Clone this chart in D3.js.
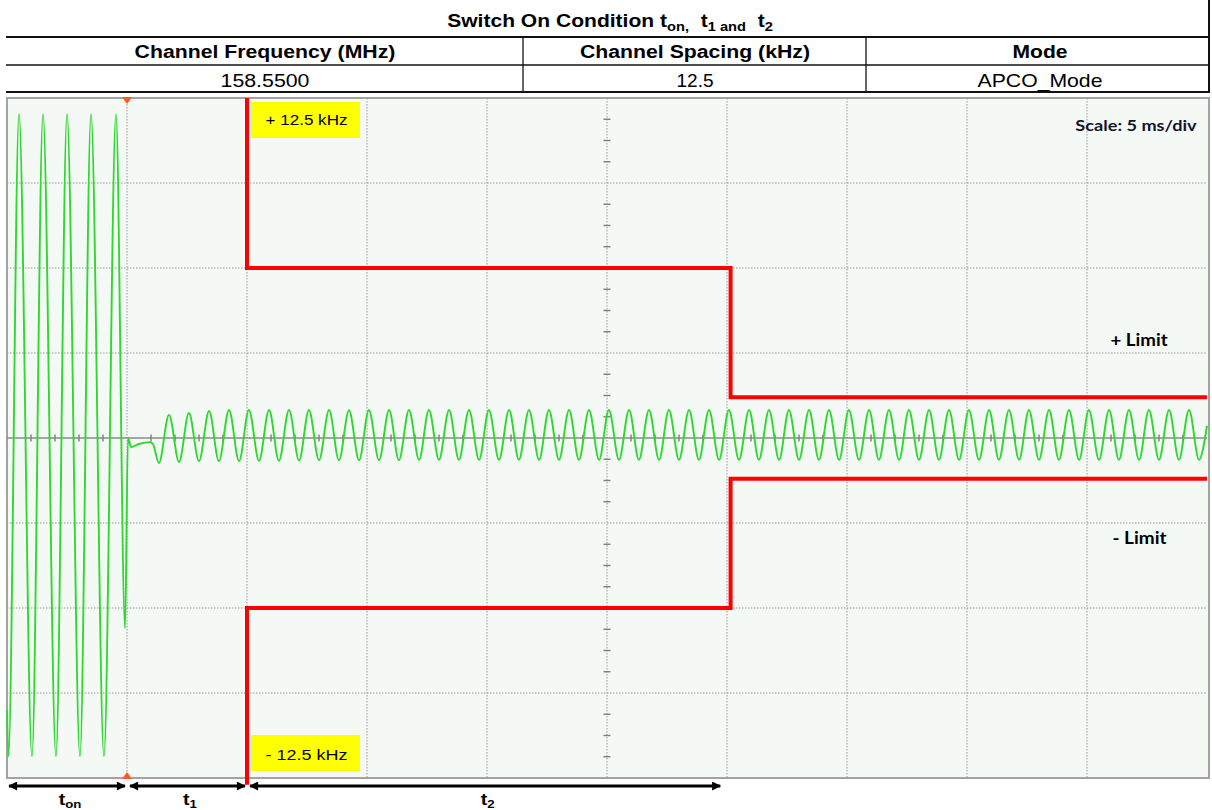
<!DOCTYPE html>
<html><head><meta charset="utf-8">
<script src="https://cdn.jsdelivr.net/npm/d3@7"></script>
<style>html,body{margin:0;padding:0;background:#fff;}svg{display:block;}</style>
</head><body>
<svg id="c" width="1212" height="810"></svg>
<script>
// ---------------- data ----------------
const titleMain = "Switch On Condition";
const headerColumns = ["Channel Frequency (MHz)", "Channel Spacing (kHz)", "Mode"];
const headerValues = ["158.5500", "12.5", "APCO_Mode"];
const timeGridMs = [0, 5, 10, 15, 20, 25, 30, 35, 40, 45, 50];
const freqGridKHz = [-12.5, -9.375, -6.25, -3.125, 0, 3.125, 6.25, 9.375, 12.5];
const limitTimesMs = [10, 10, 30.15, 30.15, 50];
const upperLimitKHz = [12.5, 6.25, 6.25, 1.5, 1.5];
const lowerLimitKHz = [-12.75, -6.25, -6.25, -1.5, -1.5];
const limitLabels = ["+ 12.5 kHz", "- 12.5 kHz"];
const sideLabels = ["+ Limit", "- Limit"];
const scaleLabel = "Scale: 5 ms/div";
// switch-on transient (big deviation then settling)
const startupTimesMs = [0, 0.06, 0.5, 1.04, 1.5, 2.04, 2.5, 3.04, 3.5, 4.04, 4.54, 4.92, 5.04, 5.17, 5.5, 5.96, 6.08];
const startupKHz = [-10.0, -11.7, 11.9, -11.7, 11.9, -11.7, 11.9, -11.7, 11.9, -11.7, 11.9, -7.0, 0.0, -0.33, -0.22, -0.15, -0.22];
// steady modulation extrema (trough, peak, trough, ...)
const steadyTimesMs = [6.33, 6.75, 7.17, 7.58, 8.00, 8.42, 8.83, 9.25, 9.67, 10.08, 10.50, 10.92, 11.33, 11.75, 12.17, 12.58,
  13.00, 13.42, 13.83, 14.25, 14.67, 15.08, 15.50, 15.92, 16.33, 16.75, 17.17, 17.58, 18.00, 18.42, 18.83, 19.25,
  19.67, 20.08, 20.50, 20.92, 21.33, 21.75, 22.17, 22.58, 23.00, 23.42, 23.83, 24.25, 24.67, 25.08, 25.50, 25.92,
  26.33, 26.75, 27.17, 27.58, 28.00, 28.42, 28.83, 29.25, 29.67, 30.08, 30.50, 30.92, 31.33, 31.75, 32.17, 32.58,
  33.00, 33.42, 33.83, 34.25, 34.67, 35.08, 35.50, 35.92, 36.33, 36.75, 37.17, 37.58, 38.00, 38.42, 38.83, 39.25,
  39.67, 40.08, 40.50, 40.92, 41.33, 41.75, 42.17, 42.58, 43.00, 43.42, 43.83, 44.25, 44.67, 45.08, 45.50, 45.92,
  46.33, 46.75, 47.17, 47.58, 48.00, 48.42, 48.83, 49.25, 49.67, 50.00];
const steadyKHz = [-0.92, 0.85, -0.88, 0.92, -0.85, 0.99, -0.85, 1.03, -0.85, 1.03, -0.84, 1.03, -0.84, 1.03, -0.83, 1.03,
  -0.82, 1.03, -0.82, 1.02, -0.82, 1.03, -0.82, 1.03, -0.82, 1.03, -0.80, 1.03, -0.80, 1.03, -0.80, 1.03,
  -0.80, 1.03, -0.80, 1.03, -0.80, 1.03, -0.80, 1.03, -0.80, 1.03, -0.80, 1.03, -0.80, 1.03, -0.80, 1.03,
  -0.80, 1.03, -0.80, 1.03, -0.80, 1.03, -0.80, 1.03, -0.80, 1.03, -0.80, 1.03, -0.80, 1.03, -0.80, 1.03,
  -0.80, 1.03, -0.80, 1.03, -0.80, 1.03, -0.80, 1.03, -0.80, 1.03, -0.80, 1.03, -0.80, 1.03, -0.80, 1.03,
  -0.80, 1.03, -0.80, 1.03, -0.80, 1.03, -0.80, 1.03, -0.80, 1.03, -0.80, 1.03, -0.80, 1.03, -0.80, 1.03,
  -0.80, 1.03, -0.80, 1.03, -0.80, 1.03, -0.80, 1.03, -0.80, 0.45];
const intervalNames = ["on", "1", "2"];
const intervalStartMs = [0, 5, 10];
const intervalEndMs = [5, 10, 29.8];
const triggerMs = 5;

// ---------------- drawing ----------------
const svg = d3.select("#c");
const x = d3.scaleLinear().domain([0, 50]).range([7, 1207]);
const y = d3.scaleLinear().domain([-12.5, 12.5]).range([778, 98]);
const SANS = "'Liberation Sans', Arial, sans-serif";
const CAL = "Lato, 'Open Sans', sans-serif";

function fitText(parent, txt, cx, by, target, opts) {
  const g = parent.append("g").attr("transform", `translate(${cx},${by})`);
  const t = g.append("text").attr("x", 0).attr("y", 0)
    .attr("text-anchor", opts.anchor || "middle")
    .attr("font-family", opts.family || SANS)
    .attr("font-size", opts.size || 16)
    .attr("font-weight", opts.weight || "normal")
    .attr("fill", opts.fill || "#000")
    .style("white-space", "pre");
  if (typeof txt === "function") txt(t); else t.text(txt);
  const w = t.node().getBBox().width;
  if (target && w > 0) g.attr("transform", `translate(${cx},${by}) scale(${target / w},1)`);
  return g;
}

// header
const hdr = svg.append("g");
fitText(hdr, t => {
  t.append("tspan").text(titleMain + " t");
  t.append("tspan").attr("font-size", 12.5).attr("dy", 4).text("on,");
  t.append("tspan").attr("dy", -4).text("  t");
  t.append("tspan").attr("font-size", 12.5).attr("dy", 4).text("1 and");
  t.append("tspan").attr("dy", -4).text("  t");
  t.append("tspan").attr("font-size", 12.5).attr("dy", 4).text("2");
}, 610, 27, 326, {size: 18, weight: "bold"});

[[37, 2], [65, 1.5], [92, 2]].forEach(([yy, sw]) => {
  hdr.append("line").attr("x1", 6).attr("x2", 1210).attr("y1", yy).attr("y2", yy)
    .attr("stroke", "#111").attr("stroke-width", sw);
});
hdr.append("line").attr("x1", 1209).attr("x2", 1209).attr("y1", 0).attr("y2", 93).attr("stroke", "#111").attr("stroke-width", 2);
[523, 866].forEach(xx => hdr.append("line").attr("x1", xx).attr("x2", xx).attr("y1", 37).attr("y2", 92)
  .attr("stroke", "#111").attr("stroke-width", 1.3));
const colCenters = [265, 695, 1040];
const colWidths = [261, 230, 55];
const valWidths = [89, 37, 125];
headerColumns.forEach((c, i) => fitText(hdr, c, colCenters[i], 58, colWidths[i], {size: 18.5, weight: "bold"}));
headerValues.forEach((c, i) => fitText(hdr, c, colCenters[i], 87, valWidths[i], {size: 18.5}));

// scope frame
const scope = svg.append("g");
scope.append("rect").attr("x", x(0)).attr("y", y(12.5)).attr("width", x(50) - x(0) + 2).attr("height", y(-12.5) - y(12.5))
  .attr("fill", "#f4f9f6").attr("stroke", "#a3a3a3").attr("stroke-width", 2);

// grid
scope.selectAll("line.vg").data(timeGridMs.slice(1, -1)).join("line").attr("class", "vg")
  .attr("x1", d => x(d)).attr("x2", d => x(d)).attr("y1", y(12.5)).attr("y2", y(-12.5))
  .attr("stroke", "#9a9a9a").attr("stroke-width", 1).attr("stroke-dasharray", "1.5,1.5");
scope.selectAll("line.hg").data(freqGridKHz.slice(1, -1).filter(d => d !== 0)).join("line").attr("class", "hg")
  .attr("x1", x(0)).attr("x2", x(50)).attr("y1", d => y(d)).attr("y2", d => y(d))
  .attr("stroke", "#9a9a9a").attr("stroke-width", 1).attr("stroke-dasharray", "1.5,1.5");
scope.append("line").attr("x1", x(0)).attr("x2", x(50)).attr("y1", y(0)).attr("y2", y(0))
  .attr("stroke", "#8a8a8a").attr("stroke-width", 1.4);
// minor ticks
const xMinor = d3.range(1, 50, 1).filter(d => d % 5 !== 0);
scope.selectAll("line.xt").data(xMinor).join("line").attr("class", "xt")
  .attr("x1", d => x(d)).attr("x2", d => x(d)).attr("y1", y(0) - 3.5).attr("y2", y(0) + 3.5)
  .attr("stroke", "#7d7d7d").attr("stroke-width", 1.4);
const yMinor = d3.range(-12.5 + 0.78125, 12.5, 0.78125).filter(d => Math.abs((d / 3.125) - Math.round(d / 3.125)) > 1e-6);
scope.selectAll("line.yt").data(yMinor).join("line").attr("class", "yt")
  .attr("x1", x(25) - 3.5).attr("x2", x(25) + 3.5).attr("y1", d => y(d)).attr("y2", d => y(d))
  .attr("stroke", "#7d7d7d").attr("stroke-width", 1.4);

// trigger markers
const tx = x(triggerMs);
scope.append("path").attr("d", `M${tx - 5},${y(12.5) - 1}L${tx + 5},${y(12.5) - 1}L${tx},${y(12.5) + 6}Z`).attr("fill", "#ff5a22");
scope.append("path").attr("d", `M${tx - 5},${y(-12.5) + 1}L${tx + 5},${y(-12.5) + 1}L${tx},${y(-12.5) - 6}Z`).attr("fill", "#ff5a22");

// waveform
const wave = startupTimesMs.map((t, i) => [t, startupKHz[i]])
  .concat(steadyTimesMs.map((t, i) => [t, steadyKHz[i]]));
const line = d3.line().x(d => x(d[0])).y(d => y(d[1])).curve(d3.curveMonotoneX);
scope.append("path").attr("d", line(wave)).attr("fill", "none")
  .attr("stroke", "#2fd82f").attr("stroke-width", 1.9).attr("stroke-linejoin", "round");

// limit lines
const lim = d3.line().x(d => x(d[0])).y(d => y(d[1]));
[upperLimitKHz, lowerLimitKHz].forEach(arr => {
  scope.append("path").attr("d", lim(limitTimesMs.map((t, i) => [t, arr[i]])))
    .attr("fill", "none").attr("stroke", "#ff0000").attr("stroke-width", 4).attr("stroke-linejoin", "miter");
});

// yellow labels
const boxX = x(10) + 4, boxW = 109;
[[y(12.5) + 4, 125], [y(-12.5) - 43, 760]].forEach(([by, base], i) => {
  scope.append("rect").attr("x", boxX).attr("y", by).attr("width", boxW).attr("height", 36).attr("fill", "#ffff00");
  fitText(scope, limitLabels[i], boxX + boxW / 2 + 1, base, 82, {size: 14.5});
});

// scale & limit labels
fitText(scope, scaleLabel, 1136, 131, 122, {size: 16, weight: "bold", family: CAL, fill: "#12122a"});
fitText(scope, sideLabels[0], 1139, 346, 58, {size: 17, weight: "bold", family: CAL});
fitText(scope, sideLabels[1], 1139.5, 544, 55, {size: 17, weight: "bold", family: CAL});

// interval arrows
const defs = svg.append("defs");
defs.append("marker").attr("id", "ah").attr("viewBox", "0 0 10 10").attr("refX", 9).attr("refY", 5)
  .attr("markerWidth", 11).attr("markerHeight", 9).attr("markerUnits", "userSpaceOnUse").attr("orient", "auto-start-reverse")
  .append("path").attr("d", "M0,0L10,5L0,10Z").attr("fill", "#000");
const arrY = 786;
const arr = svg.append("g");
intervalNames.forEach((n, i) => {
  const x1 = x(intervalStartMs[i]) + (i === 0 ? 2 : 3), x2 = x(intervalEndMs[i]) - 2;
  arr.append("line").attr("x1", x1).attr("x2", x2).attr("y1", arrY).attr("y2", arrY)
    .attr("stroke", "#000").attr("stroke-width", 2.8)
    .attr("marker-start", "url(#ah)").attr("marker-end", "url(#ah)");
  const cx = (x(intervalStartMs[i]) + x(intervalEndMs[i])) / 2 + 3;
  const g = arr.append("g").attr("transform", `translate(${cx},805) scale(1.15,1)`);
  const t = g.append("text").attr("text-anchor", "middle").attr("font-family", SANS)
    .attr("font-weight", "bold").attr("font-size", 17);
  t.append("tspan").text("t");
  t.append("tspan").attr("font-size", 11.5).attr("dy", 3).text(n);
});
</script>
</body></html>
